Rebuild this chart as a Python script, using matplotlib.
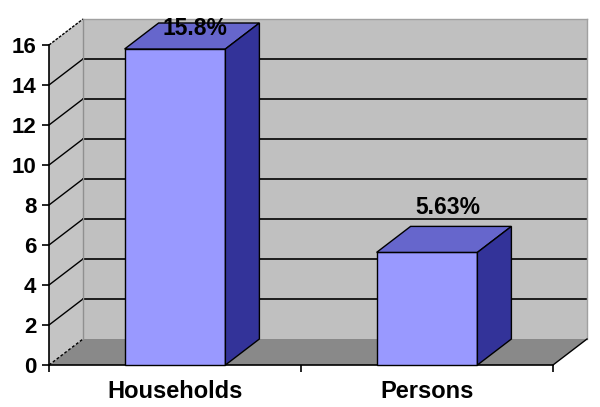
import matplotlib
matplotlib.use("Agg")
import matplotlib.pyplot as plt
from matplotlib.patches import Polygon

categories = ["Households", "Persons"]
values = [15.8, 5.63]
value_labels = ["15.8%", "5.63%"]
yticks = [0, 2, 4, 6, 8, 10, 12, 14, 16]

plt.rcParams['font.family'] = ['Liberation Sans', 'DejaVu Sans']

fig = plt.figure(figsize=(6.0, 4.07), dpi=100)
ax = fig.add_axes([49/600, 42/407, 504/600, 320/407])
ax.set_xlim(0, 2)
ax.set_ylim(0, 16)
for s in ax.spines.values():
    s.set_visible(False)

# 3D depth offset (data units)
ddx = 34/252
ddy = 1.3
ymax = 16
nx = len(categories)

wall = "#c0c0c0"
sidewall = "#c4c4c4"
floor = "#898989"

def poly(pts, fc, ec="none", lw=0, z=1, ls="-"):
    p = Polygon(pts, closed=True, facecolor=fc, edgecolor=ec, linewidth=lw,
                zorder=z, clip_on=False, linestyle=ls)
    ax.add_patch(p)

# back wall
poly([(ddx, ddy), (nx+ddx, ddy), (nx+ddx, ymax+ddy), (ddx, ymax+ddy)], wall, z=1)
# left side wall
poly([(0, 0), (ddx, ddy), (ddx, ymax+ddy), (0, ymax)], sidewall, z=1)
# floor
poly([(0, 0), (nx, 0), (nx+ddx, ddy), (ddx, ddy)], floor, z=1)

# gridlines
for t in yticks[1:]:
    top = (t == ymax)
    ax.plot([ddx, nx+ddx], [t+ddy, t+ddy], color="#a0a0a0" if top else "black",
            lw=1.0 if top else 1.2, zorder=2, clip_on=False)
    ax.plot([0, ddx], [t, t+ddy], color="black", lw=1.0, zorder=2, clip_on=False,
            linestyle=(0, (2, 1)) if top else "-")
# wall corner and edges
ax.plot([ddx, ddx], [ddy, ymax+ddy], color="#909090", lw=1.0, zorder=2, clip_on=False)
ax.plot([nx+ddx, nx+ddx], [ddy, ymax+ddy], color="#a0a0a0", lw=1.0, zorder=2, clip_on=False)
ax.plot([0, ddx], [0, ddy], color="black", lw=1.0, zorder=2, clip_on=False, linestyle=(0, (2, 1.5)))
ax.plot([nx, nx+ddx], [0, ddy], color="black", lw=1.0, zorder=2, clip_on=False)
ax.plot([0, nx], [0, 0], color="black", lw=1.2, zorder=2, clip_on=False)
ax.plot([0, 0], [0, ymax], color="black", lw=1.2, zorder=2, clip_on=False)

# bars
bw = 0.4
front_c = "#9999ff"
top_c = "#6666cc"
side_c = "#333399"
for i, v in enumerate(values):
    x0 = i + 0.5 - bw/2
    x1 = i + 0.5 + bw/2
    poly([(x0, 0), (x1, 0), (x1, v), (x0, v)], front_c, "black", 1.0, z=5)
    poly([(x0, v), (x1, v), (x1+ddx, v+ddy), (x0+ddx, v+ddy)], top_c, "black", 1.0, z=5)
    poly([(x1, 0), (x1+ddx, ddy), (x1+ddx, v+ddy), (x1, v)], side_c, "black", 1.0, z=5)
    ly = min(v + 1.68, 16.25)
    ax.text(i + 0.5 + ddx*0.6, ly, value_labels[i], ha="center", va="bottom",
            fontsize=16.5, fontweight="bold", zorder=6, clip_on=False)

# ticks
ax.set_yticks(yticks)
ax.set_yticklabels([str(t) for t in yticks], fontsize=16, fontweight="bold")
ax.tick_params(axis="y", direction="out", length=5, width=1.2, pad=4, color="black")
ax.set_xticks([i + 0.5 for i in range(nx)])
ax.set_xticklabels(categories, fontsize=17, fontweight="bold")
ax.tick_params(axis="x", which="major", length=0, pad=11)
ax.set_xticks(list(range(nx+1)), minor=True)
ax.tick_params(axis="x", which="minor", direction="out", length=5, width=1.2, color="black")
ax.set_facecolor("none")

fig.savefig("out.png", dpi=100, facecolor="white")
